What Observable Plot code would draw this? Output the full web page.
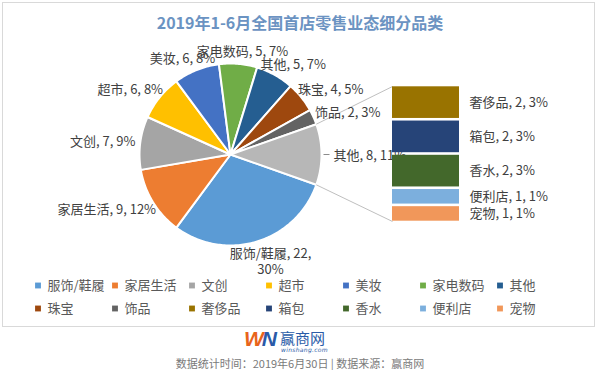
<!DOCTYPE html>
<html><head><meta charset="utf-8">
<script src="https://cdn.jsdelivr.net/npm/d3@7"></script>
<script src="https://cdn.jsdelivr.net/npm/@observablehq/plot@0.6"></script>
<style>
body{margin:0;background:#fff;font-family:"Noto Sans CJK SC","Noto Sans",sans-serif;}
#page{position:relative;width:600px;height:370px;overflow:hidden;background:#fff;}
#frame{position:absolute;left:2px;top:2px;width:593px;height:325px;border:1px solid #d9d9d9;box-sizing:border-box;}
#title{position:absolute;left:0;top:9px;width:600px;text-align:center;font-weight:bold;font-size:16px;line-height:26px;color:#6b93c2;}
#main,#bar{position:absolute;}
#main{left:0;top:0;}
#bar{left:392px;top:85px;}
#logoW{position:absolute;left:244px;top:328px;font:italic bold 21px/22px "Liberation Sans",Arial,sans-serif;letter-spacing:-2px;}
#logoT{position:absolute;left:280px;top:330px;font-size:15px;line-height:15px;height:15px;color:#2b5ca8;}
#logoS{position:absolute;left:281px;top:347px;font:italic 6px/6px "DejaVu Sans",sans-serif;height:6px;color:#2b5ca8;letter-spacing:0.3px;}
#caption{position:absolute;left:0;top:357px;width:600px;text-align:center;font-size:11px;line-height:13px;color:#7a7a7a;}
</style></head>
<body>
<div id="page">
  <div id="frame"></div>
  <div id="title">2019年1-6月全国首店零售业态细分品类</div>
  <div id="logoW"><span style="color:#e8641b">W</span><span style="color:#2a5aa8">N</span></div>
  <div id="logoT">赢商网</div>
  <div id="logoS">winshang.com</div>
  <div id="caption">数据统计时间：2019年6月30日 | 数据来源：赢商网</div>
</div>
<script>
// ---- data ----
const categories = ["服饰/鞋履","家居生活","文创","超市","美妆","家电数码","其他","珠宝","饰品"];
const counts = [22,9,7,6,6,5,5,4,2];
const pieColors = ["#5B9BD5","#ED7D31","#A5A5A5","#FFC000","#4472C4","#70AD47","#255E91","#9E480E","#636363"];
const otherName = "其他";
const otherColor = "#B7B7B7";
const barCategories = ["奢侈品","箱包","香水","便利店","宠物"];
const barCounts = [2,2,2,1,1];
const barColors = ["#997300","#264478","#43682B","#7CAFDD","#F1975A"];
const wrappedLabels = ["服饰/鞋履"];

// ---- layout ----
const CX = 230, CY = 154, R = 91;
const BAR_X = 392, BAR_TOP = 85, BAR_W = 67, BAR_H = 137;
const FONT = '"Noto Sans CJK SC","Noto Sans",sans-serif';
const LABEL_GAP = 5, LEADER_GAP = 12, LINE_H = 15.6;

const otherCount = d3.sum(barCounts);
const total = d3.sum(counts) + otherCount;
const pct = v => Math.round(v / total * 100);

const pieData = categories.map((c,i)=>({name:c, value:counts[i], color:pieColors[i], combined:false}))
  .concat([{name:otherName, value:otherCount, color:otherColor, combined:true}]);

const start = Math.PI/2 + (otherCount/total)*Math.PI;
const arcs = d3.pie().sort(null).value(d=>d.value).startAngle(start).endAngle(start+2*Math.PI)(pieData);

const pts = [];
arcs.forEach((a,i)=>{
  const key = "s"+i;
  pts.push({key, color:a.data.color, x:CX, y:CY});
  const n = Math.max(2, Math.ceil((a.endAngle-a.startAngle)/(Math.PI/180)));
  for (let k=0;k<=n;k++){
    const t = a.startAngle + (a.endAngle-a.startAngle)*k/n;
    pts.push({key, color:a.data.color, x:CX+R*Math.sin(t), y:CY-R*Math.cos(t)});
  }
});

const ctx = document.createElement("canvas").getContext("2d");
ctx.font = `13px ${FONT}`;
const labels = arcs.map(a=>{
  const d = a.data;
  const mid = (a.startAngle+a.endAngle)/2;
  const sx = Math.sin(mid), sy = -Math.cos(mid);
  const wrap = wrappedLabels.includes(d.name);
  const text = wrap ? `${d.name}, ${d.value},\n${pct(d.value)}%` : `${d.name}, ${d.value}, ${pct(d.value)}%`;
  const lines = text.split("\n");
  const w = d3.max(lines, l=>ctx.measureText(l).width);
  const h = lines.length*LINE_H;
  const gap = d.combined ? LEADER_GAP : LABEL_GAP;
  const rx = CX+R*sx, ry = CY+R*sy;
  return {text, rx, ry, sx, sy, combined:d.combined,
    x: rx + gap*sx + sx*w/2, y: ry + gap*sy + sy*h/2};
});
const leaders = labels.filter(l=>l.combined).map(l=>({x1:l.rx+2*l.sx, y1:l.ry+2*l.sy, x2:l.rx+(LEADER_GAP-4)*l.sx, y2:l.ry+(LEADER_GAP-4)*l.sy}));

const comb = arcs[arcs.length-1];
const connectors = [
  {x1:CX+R*Math.sin(comb.startAngle), y1:CY-R*Math.cos(comb.startAngle), x2:BAR_X, y2:BAR_TOP+1},
  {x1:CX+R*Math.sin(comb.endAngle), y1:CY-R*Math.cos(comb.endAngle), x2:BAR_X, y2:BAR_TOP+BAR_H-1}
];

// legend
const legendNames = categories.concat(barCategories);
const legendColors = pieColors.concat(barColors);
const LEG_X0 = 37.5, LEG_DX = 77, LEG_Y0 = 285, LEG_DY = 23;
const legend = legendNames.map((n,i)=>({name:n, color:legendColors[i], x:LEG_X0+LEG_DX*(i%7), y:LEG_Y0+LEG_DY*Math.floor(i/7)}));

const main = Plot.plot({
  width:600, height:330, margin:0,
  x:{domain:[0,600], axis:null},
  y:{domain:[0,330], reverse:true, axis:null},
  style:{background:"transparent", overflow:"visible", fontFamily:FONT},
  marks:[
    Plot.line(pts,{x:"x", y:"y", z:"key", fill:"color", stroke:"white", strokeWidth:2, curve:"linear-closed"}),
    Plot.link(connectors,{x1:"x1", y1:"y1", x2:"x2", y2:"y2", stroke:"#bfbfbf", strokeWidth:1}),
    Plot.link(leaders,{x1:"x1", y1:"y1", x2:"x2", y2:"y2", stroke:"#8c8c8c", strokeWidth:1}),
    Plot.text(labels,{x:"x", y:"y", text:"text", fill:"#404040", fontSize:13, lineHeight:1.2, textAnchor:"middle"}),
    Plot.dot(legend,{x:"x", y:"y", symbol:"square", r:3.3, fill:"color", stroke:null}),
    Plot.text(legend,{x:d=>d.x+9.5, y:"y", text:"name", textAnchor:"start", fill:"#595959", fontSize:13})
  ]
});
main.id = "main";
document.getElementById("page").appendChild(main);

let acc = 0;
const barData = barCategories.map((c,i)=>{
  const y1 = acc; acc += barCounts[i];
  return {name:c, value:barCounts[i], color:barColors[i], y1, y2:acc, label:`${c}, ${barCounts[i]}, ${pct(barCounts[i])}%`};
});
const bar = Plot.plot({
  width:204, height:BAR_H, margin:0,
  x:{type:"band", domain:["stack"], range:[0,BAR_W], padding:0, axis:null},
  y:{domain:[0,otherCount], reverse:true, axis:null},
  style:{background:"transparent", overflow:"visible", fontFamily:FONT},
  marks:[
    Plot.barY(barData,{x:()=>"stack", y1:"y1", y2:"y2", fill:"color", insetTop:1.3, insetBottom:1.3}),
    Plot.text(barData,{x:()=>"stack", y:d=>(d.y1+d.y2)/2, text:"label", textAnchor:"start", dx:BAR_W/2+10, fill:"#404040", fontSize:13})
  ]
});
bar.id = "bar";
document.getElementById("page").appendChild(bar);
</script>
</body></html>
